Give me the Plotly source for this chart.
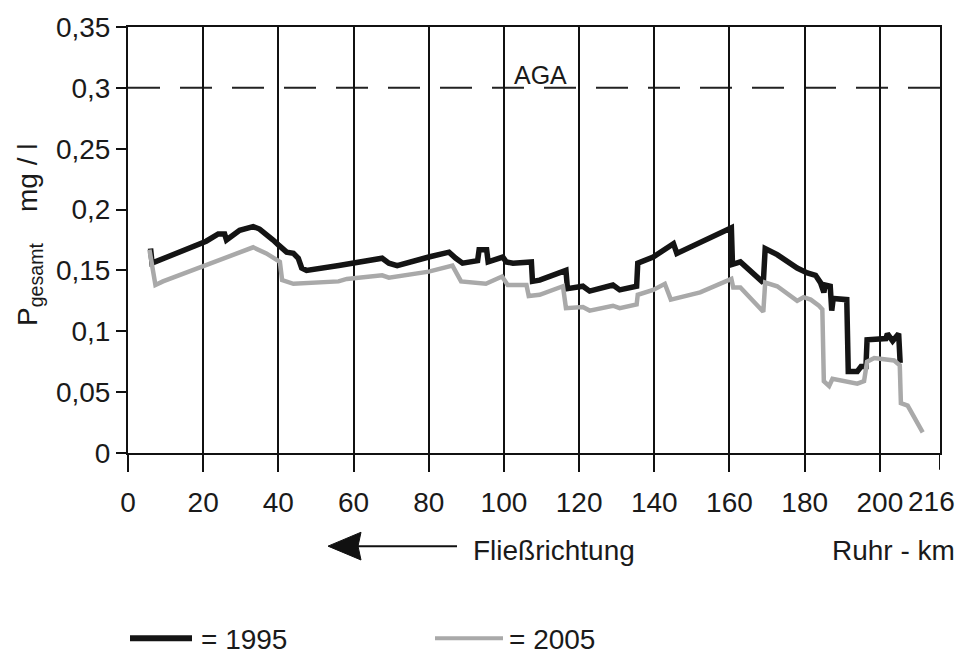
import plotly.graph_objects as go

# ---------------- data ----------------
km_1995 = [6.0, 6.4, 20.8, 24.0, 25.7, 26.2, 29.7, 33.3, 35.0, 36.8, 38.6, 40.0, 42.2, 44.0,
           45.3, 46.2, 47.5, 56.1, 67.6, 69.4, 71.6, 80.0, 85.4, 87.2, 89.0, 93.0, 93.4, 95.4,
           95.8, 99.7, 100.6, 102.4, 107.3, 107.6, 109.5, 116.5, 116.9, 121.0, 122.8, 129.0,
           130.8, 135.3, 135.6, 139.7, 143.3, 145.1, 146.0, 160.5, 160.8, 162.9, 169.0, 169.5,
           172.7, 178.0, 180.7, 182.9, 184.2, 185.1, 185.5, 186.8, 187.2, 187.6, 191.2, 191.6,
           194.0, 195.0, 196.3, 196.6, 201.6, 202.0, 203.4, 205.0, 205.4]
p_1995 = [0.168, 0.156, 0.174, 0.180, 0.180, 0.175, 0.183, 0.186, 0.184, 0.180, 0.175, 0.171,
          0.165, 0.164, 0.160, 0.152, 0.150, 0.154, 0.160, 0.156, 0.154, 0.161, 0.165, 0.160,
          0.156, 0.158, 0.167, 0.167, 0.157, 0.161, 0.157, 0.156, 0.157, 0.141, 0.142, 0.150,
          0.135, 0.137, 0.133, 0.138, 0.134, 0.137, 0.156, 0.161, 0.168, 0.172, 0.164, 0.185,
          0.155, 0.157, 0.140, 0.168, 0.163, 0.152, 0.148, 0.146, 0.140, 0.132, 0.138, 0.137,
          0.117, 0.127, 0.126, 0.067, 0.067, 0.071, 0.071, 0.093, 0.094, 0.098, 0.092, 0.098,
          0.074]

km_2005 = [5.7, 7.3, 9.3, 20.8, 26.2, 33.3, 36.8, 40.4, 41.0, 44.0, 56.0, 58.2, 67.6, 69.4,
           80.0, 86.3, 88.6, 95.2, 99.5, 101.0, 106.0, 106.6, 109.5, 115.7, 116.5, 121.0, 122.8,
           129.0, 130.8, 135.3, 135.6, 139.7, 142.8, 144.4, 152.2, 160.5, 161.0, 162.9, 169.0,
           169.5, 172.7, 178.0, 179.7, 181.6, 183.8, 184.7, 185.1, 186.5, 187.4, 194.0, 195.8,
           196.6, 198.5, 203.8, 205.3, 205.6, 207.4, 211.4]
p_2005 = [0.167, 0.138, 0.141, 0.154, 0.160, 0.169, 0.164, 0.157, 0.142, 0.139, 0.141, 0.143,
          0.146, 0.144, 0.149, 0.154, 0.141, 0.139, 0.145, 0.138, 0.138, 0.129, 0.130, 0.137,
          0.119, 0.120, 0.117, 0.121, 0.119, 0.122, 0.130, 0.134, 0.139, 0.126, 0.132, 0.143,
          0.136, 0.136, 0.116, 0.140, 0.137, 0.125, 0.128, 0.126, 0.121, 0.118, 0.059, 0.055,
          0.061, 0.057, 0.059, 0.075, 0.078, 0.076, 0.072, 0.041, 0.039, 0.017]

aga_value = 0.3
x_tick_values = [0, 20, 40, 60, 80, 100, 120, 140, 160, 180, 200]
x_tick_labels = ["0", "20", "40", "60", "80", "100", "120", "140", "160", "180", "200"]
x_end = 216
x_end_label = "216"
y_tick_values = [0, 0.05, 0.1, 0.15, 0.2, 0.25, 0.3, 0.35]
y_tick_labels = ["0", "0,05", "0,1", "0,15", "0,2", "0,25", "0,3", "0,35"]

# ---------------- layout helpers ----------------
W, H = 962, 654
L, R, T, B = 128, 22, 23, 201
PW, PH = W - L - R, H - T - B

def px(x):
    return (x - L) / PW

def py(y):
    return (H - B - y) / PH

FONT = "Liberation Sans, Arial, sans-serif"
TXT = "#1a1a1a"
FS = 28

fig = go.Figure()
fig.add_trace(go.Scatter(x=km_1995, y=p_1995, mode="lines",
                         line=dict(color="#141414", width=5.5), showlegend=False))
fig.add_trace(go.Scatter(x=km_2005, y=p_2005, mode="lines",
                         line=dict(color="#a9a9a9", width=4.5), showlegend=False))

shapes = [
    # AGA limit line
    dict(type="line", xref="paper", yref="y", x0=0, x1=1, y0=aga_value, y1=aga_value,
         line=dict(color="#222222", width=2, dash="32px,20px"), layer="below"),
    # tick mark at the end of the axis (216 km)
    dict(type="line", xref="x", yref="paper", x0=x_end, x1=x_end, y0=0, y1=py(470),
         line=dict(color="#111111", width=2)),
    # flow direction arrow
    dict(type="line", xref="paper", yref="paper", x0=px(354), x1=px(457), y0=py(547), y1=py(547),
         line=dict(color="#111111", width=2)),
    dict(type="path", xref="paper", yref="paper",
         path=f"M {px(328)},{py(547)} L {px(361)},{py(533)} L {px(358)},{py(547)} L {px(361)},{py(561)} Z",
         fillcolor="#111111", line=dict(color="#111111", width=1)),
    # legend lines
    dict(type="line", xref="paper", yref="paper", x0=px(130), x1=px(192), y0=py(640), y1=py(640),
         line=dict(color="#141414", width=6)),
    dict(type="line", xref="paper", yref="paper", x0=px(435), x1=px(503), y0=py(640), y1=py(640),
         line=dict(color="#a9a9a9", width=4)),
]

def note(text, x, y, size=FS, xanchor="center", **kw):
    return dict(text=text, xref="paper", yref="paper", x=x, y=y, showarrow=False,
                xanchor=xanchor, yanchor="middle",
                font=dict(size=size, color=TXT, family=FONT), **kw)

annotations = [
    note("AGA", px(540), py(71), size=FS - 3),
    dict(text=x_end_label, xref="x", yref="paper", x=x_end, xshift=-9, y=py(502),
         showarrow=False, xanchor="center", yanchor="middle",
         font=dict(size=FS, color=TXT, family=FONT)),
    note("Fließrichtung", px(471), py(551), xanchor="left"),
    note("Ruhr - km", px(830), py(551), xanchor="left"),
    note("P<sub>gesamt</sub>    mg / l", px(29), py(233), textangle=-90),
    note("= 1995", px(199), py(641), xanchor="left"),
    note("= 2005", px(507), py(641), xanchor="left"),
]

fig.update_layout(
    width=W, height=H,
    margin=dict(l=L, r=R, t=T, b=B, pad=0),
    paper_bgcolor="white", plot_bgcolor="white",
    font=dict(family=FONT, size=FS, color=TXT),
    shapes=shapes, annotations=annotations,
    showlegend=False,
)
fig.update_xaxes(range=[0, x_end], tickmode="array", tickvals=x_tick_values, ticktext=x_tick_labels,
                 ticks="outside", ticklen=17, tickwidth=2, tickcolor="#111111",
                 ticklabelstandoff=6,
                 showline=True, linewidth=2, linecolor="#111111", mirror=True,
                 showgrid=True, gridcolor="#111111", gridwidth=1.6, zeroline=False,
                 tickfont=dict(size=FS, color=TXT, family=FONT))
fig.update_yaxes(range=[0, 0.35], tickmode="array", tickvals=y_tick_values, ticktext=y_tick_labels,
                 ticks="outside", ticklen=10, tickwidth=2, tickcolor="#111111",
                 showline=True, linewidth=2, linecolor="#111111", mirror=True,
                 showgrid=False, zeroline=False,
                 tickfont=dict(size=FS, color=TXT, family=FONT))

fig.write_html("out.html", config={"displayModeBar": False},
               post_script="document.body.style.margin='0';document.body.style.overflow='hidden';")
